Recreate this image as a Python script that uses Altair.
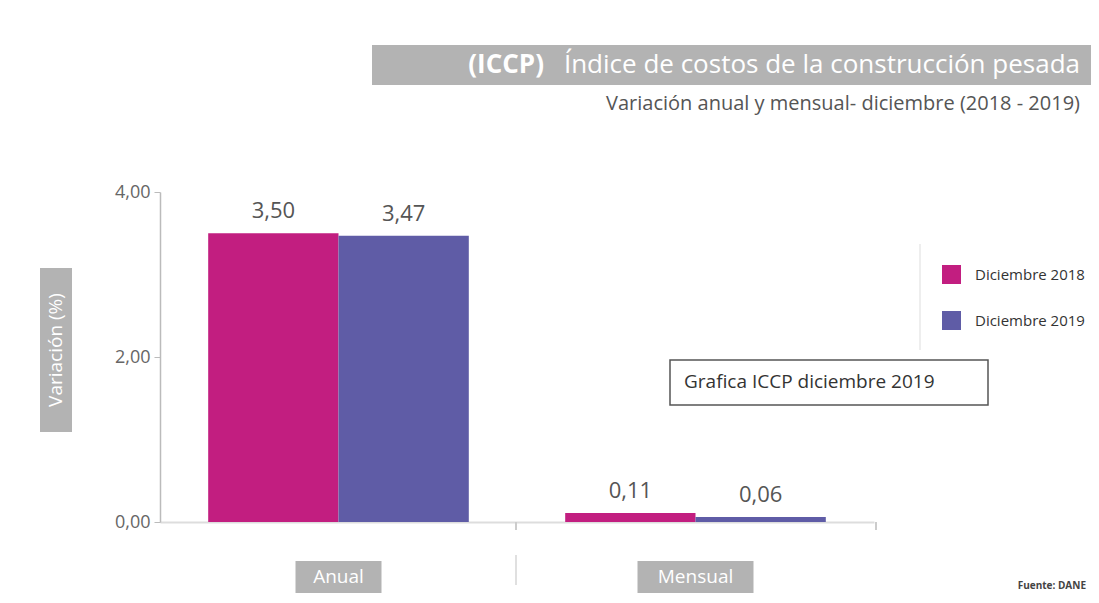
import altair as alt
import pandas as pd

categories = ["Anual", "Anual", "Mensual", "Mensual"]
series = ["Diciembre 2018", "Diciembre 2019", "Diciembre 2018", "Diciembre 2019"]
values = [3.50, 3.47, 0.11, 0.06]

title_bold = "(ICCP)"
title_main = "Índice de costos de la construcción pesada"
subtitle = "Variación anual y mensual- diciembre (2018 - 2019)"
y_title = "Variación (%)"
note_text = "Grafica ICCP diciembre 2019"
source_text = "Fuente: DANE"
group_labels = ["Anual", "Mensual"]
group_box_widths = [86, 116]
series_names = ["Diciembre 2018", "Diciembre 2019"]
series_colors = ["#C21E80", "#5F5CA6"]
y_ticks = [0, 2, 4]

FONT = "Open Sans"
W, H = 714, 330

df = pd.DataFrame({"cat": categories, "serie": series, "v": values})

xenc = alt.X("cat:N", sort=group_labels, title=None,
             scale=alt.Scale(paddingInner=0.27, paddingOuter=0.135),
             axis=alt.Axis(labels=False, ticks=False, domainColor="#dddddd", domainWidth=2))
yenc = alt.Y("v:Q", title=None, scale=alt.Scale(domain=[0, 4], nice=False),
             axis=alt.Axis(values=y_ticks, grid=False, domainColor="#bbbbbb", domainWidth=1.5,
                           tickColor="#bbbbbb", tickSize=6,
                           labelExpr="replace(format(datum.value, '.2f'), '.', ',')",
                           labelFont=FONT, labelFontSize=18, labelColor="#666666",
                           labelPadding=4))
cenc = alt.Color("serie:N", title=None,
                 scale=alt.Scale(domain=series_names, range=series_colors),
                 legend=alt.Legend(orient="none", legendX=782, legendY=73,
                                   symbolType="square", symbolSize=360,
                                   symbolStrokeWidth=0, symbolOpacity=1,
                                   labelFont=FONT, labelFontSize=15, labelColor="#333333",
                                   labelOffset=14, rowPadding=27))
xoff = alt.XOffset("serie:N", sort=series_names, scale=alt.Scale(paddingInner=0, paddingOuter=0))

bars = alt.Chart(df).mark_bar().encode(x=xenc, y=yenc, color=cenc, xOffset=xoff)

labels = alt.Chart(df).transform_calculate(
    lab="replace(format(datum.v, '.2f'), '.', ',')"
).mark_text(baseline="bottom", dy=-10, font=FONT, fontSize=22, color="#555555").encode(
    x=alt.X("cat:N", sort=group_labels), y="v:Q",
    xOffset=alt.XOffset("serie:N", sort=series_names), text="lab:N")

one = lambda **kw: alt.Data(values=[kw])

# title bar
title_box = alt.Chart(one(a=1)).mark_rect(color="#b3b3b3").encode(
    x=alt.value(212), x2=alt.value(932), y=alt.value(-147), y2=alt.value(-107))
title_t1 = alt.Chart(pd.DataFrame({"t": [title_main]})).mark_text(
    align="right", baseline="middle", font=FONT, fontSize=26, color="white").encode(
    x=alt.value(920), y=alt.value(-127), text="t:N")
title_t0 = alt.Chart(pd.DataFrame({"t": [title_bold]})).mark_text(
    align="right", baseline="middle", font=FONT, fontSize=26, fontWeight="bold", color="white").encode(
    x=alt.value(384), y=alt.value(-127), text="t:N")
sub_t = alt.Chart(pd.DataFrame({"t": [subtitle]})).mark_text(
    align="right", baseline="middle", font=FONT, fontSize=20, color="#555555").encode(
    x=alt.value(920), y=alt.value(-88), text="t:N")

# y axis title
ytitle_box = alt.Chart(one(a=1)).mark_rect(color="#b3b3b3").encode(
    x=alt.value(-120), x2=alt.value(-88), y=alt.value(76), y2=alt.value(240))
ytitle_t = alt.Chart(pd.DataFrame({"t": [y_title]})).mark_text(
    angle=270, align="center", baseline="middle", font=FONT, fontSize=19, color="white").encode(
    x=alt.value(-104), y=alt.value(158), text="t:N")

# x axis category-boundary ticks
xticks = [
    alt.Chart(one(a=1)).mark_rule(color="#cccccc", strokeWidth=2).encode(
        x=alt.value(px), y=alt.value(330), y2=alt.value(338))
    for px in (356, 716)
]

# x group labels
gboxes = [
    alt.Chart(pd.DataFrame({"cat": [g]})).mark_rect(color="#b3b3b3", width=w, height=32).encode(
        x=alt.X("cat:N", sort=group_labels), y=alt.value(385))
    for g, w in zip(group_labels, group_box_widths)
]
gtext = alt.Chart(pd.DataFrame({"cat": group_labels})).mark_text(
    font=FONT, fontSize=19, color="white", baseline="middle").encode(
    x=alt.X("cat:N", sort=group_labels), y=alt.value(385), text="cat:N")
sep = alt.Chart(one(a=1)).mark_rule(color="#e0e0e0", strokeWidth=2).encode(
    x=alt.value(356), y=alt.value(363), y2=alt.value(393))

# legend side line
leg_line = alt.Chart(one(a=1)).mark_rule(color="#e8e8e8", strokeWidth=1.5).encode(
    x=alt.value(760), y=alt.value(52), y2=alt.value(158))

# note box
note_box = alt.Chart(one(a=1)).mark_rect(fill="white", stroke="#555555", strokeWidth=1.5).encode(
    x=alt.value(510), x2=alt.value(828), y=alt.value(168), y2=alt.value(213))
note_t = alt.Chart(pd.DataFrame({"t": [note_text]})).mark_text(
    align="left", baseline="middle", font=FONT, fontSize=19, color="#333333").encode(
    x=alt.value(524), y=alt.value(190), text="t:N")

src_t = alt.Chart(pd.DataFrame({"t": [source_text]})).mark_text(
    align="right", baseline="middle", font=FONT, fontSize=10, fontWeight="bold", color="#444444").encode(
    x=alt.value(926), y=alt.value(394), text="t:N")

chart = alt.layer(
    title_box, title_t1, title_t0, sub_t, ytitle_box, ytitle_t,
    leg_line, bars, labels, *xticks, *gboxes, gtext, sep, note_box, note_t, src_t
).properties(
    width=W, height=H,
    background="white",
    autosize=alt.AutoSizeParams(type="none"),
    padding={"left": 152, "top": 184, "right": 217, "bottom": 73},
).configure_view(stroke=None)

chart.save("out.html", embed_options={"renderer": "svg", "actions": False})
